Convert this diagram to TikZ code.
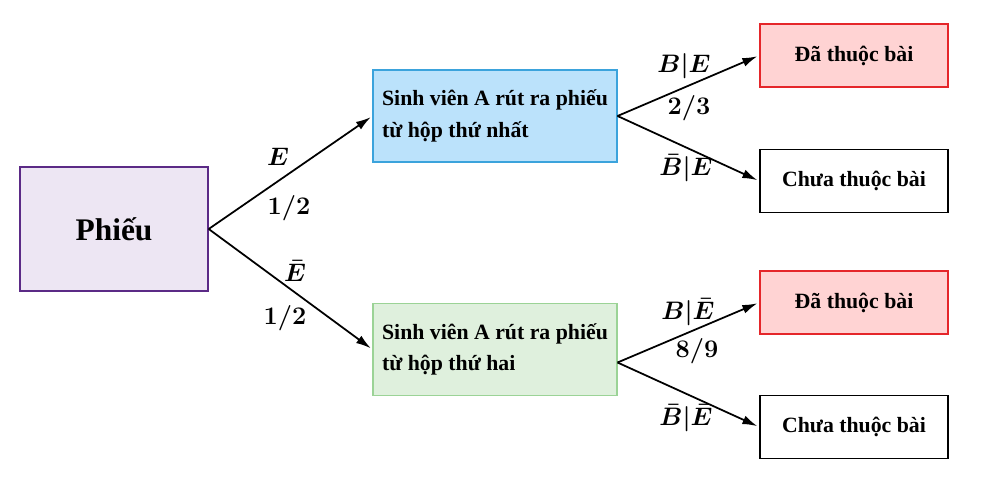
\documentclass[tikz,border=0pt]{standalone}
\usepackage{fontspec}
\setmainfont{Liberation Serif}
\usepackage{xcolor}
\usetikzlibrary{arrows.meta}

\definecolor{phieufill}{HTML}{EDE6F3}
\definecolor{phieuline}{HTML}{5B2A86}
\definecolor{bluefill}{HTML}{BBE2FB}
\definecolor{blueline}{HTML}{3BA3DC}
\definecolor{greenfill}{HTML}{DFF0DD}
\definecolor{greenline}{HTML}{9BD396}
\definecolor{redfill}{HTML}{FFD3D3}
\definecolor{redline}{HTML}{E5262A}

\begin{document}
\begin{tikzpicture}[x=0.2mm, y=-0.2mm,
    box/.style={draw, inner sep=0pt, font=\bfseries\fontsize{12.4}{18}\selectfont},
    rootbox/.style={box, fill=phieufill, draw=phieuline, line width=0.8pt,
        minimum width=37.6mm, minimum height=24.8mm, font=\bfseries\fontsize{17.9}{20}\selectfont},
    midbox/.style={box, line width=0.6pt, align=left, minimum width=48.8mm, minimum height=18.4mm},
    leafbox/.style={box, line width=0.9pt, minimum width=37.6mm, minimum height=12.6mm},
    prob/.style={inner sep=0pt, font=\fontsize{13.5}{16}\selectfont\boldmath},
    branch/.style={line width=1pt, shorten >=0.4mm, -{Latex[length=3mm, width=1.8mm]}}]

    % Define parameters for easy adjustment (pixels)
    \def\midX{495}    % centre of the middle column
    \def\leafX{854}   % centre of the right column

    \useasboundingbox (0,0) rectangle (990,487);

    % 1. The root box
    \node[rootbox] (phieu) at (114,229) {Phiếu};

    % 2. The two middle boxes
    \node[midbox, fill=bluefill, draw=blueline] (hop1) at (\midX,116)
        {Sinh viên A rút ra phiếu\\từ hộp thứ nhất};
    \node[midbox, fill=greenfill, draw=greenline] (hop2) at (\midX,349.5)
        {Sinh viên A rút ra phiếu\\từ hộp thứ hai};

    % 3. The four leaves
    \node[leafbox, fill=redfill, draw=redline] (thuoc1) at (\leafX,55.5) {Đã thuộc bài};
    \node[leafbox] (chua1) at (\leafX,181) {Chưa thuộc bài};
    \node[leafbox, fill=redfill, draw=redline] (thuoc2) at (\leafX,302.5) {Đã thuộc bài};
    \node[leafbox] (chua2) at (\leafX,427) {Chưa thuộc bài};

    % 4. Branches
    \coordinate (hop2out) at ([yshift=-2.6mm]hop2.east);
    \draw[branch] (phieu.east) -- (hop1.west);
    \draw[branch] (phieu.east) -- (hop2.west);
    \draw[branch] (hop1.east) -- (thuoc1.west);
    \draw[branch] (hop1.east) -- (chua1.west);
    \draw[branch] (hop2out) -- (thuoc2.west);
    \draw[branch] (hop2out) -- (chua2.west);

    % 5. Probability labels
    \node[prob] (lblE) at (278,157) {$E$};
    \node[prob] (pE) at (289,208) {$1/2$};
    \node[prob] (lblEbar) at (295,271) {$\bar{E}$};
    \node[prob] (pEbar) at (285,318) {$1/2$};
    \node[prob] (lblBE) at (684,66) {$B|E$};
    \node[prob] (pBE) at (689,108) {$2/3$};
    \node[prob] (lblBbarE) at (686,168) {$\bar{B}|E$};
    \node[prob] (lblBEbar) at (688,312) {$B|\bar{E}$};
    \node[prob] (pBEbar) at (697,351) {$8/9$};
    \node[prob] (lblBbarEbar) at (686,418) {$\bar{B}|\bar{E}$};
\end{tikzpicture}
\end{document}
